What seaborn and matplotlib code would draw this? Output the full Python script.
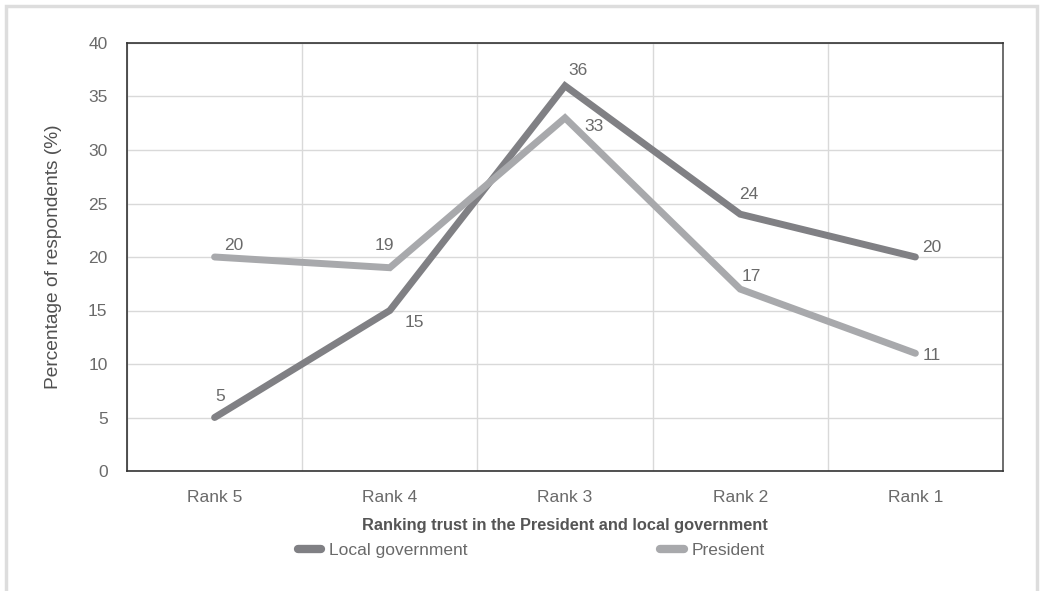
import matplotlib
matplotlib.use("Agg")
import matplotlib.pyplot as plt
from matplotlib.patches import Rectangle
from matplotlib.lines import Line2D
import seaborn as sns
import pandas as pd

# Data
ranks = ["Rank 5", "Rank 4", "Rank 3", "Rank 2", "Rank 1"]
local_gov = [5, 15, 36, 24, 20]
president = [20, 19, 33, 17, 11]
series_names = ["Local government", "President"]

# label offsets in points (dx, dy) for each data label
local_offsets = [(4, 15), (18, -9), (9, 11), (6, 14), (12, 7)]
pres_offsets = [(14, 8), (-4, 16), (21, -6), (8, 9), (12, -1.5)]

colors = {"Local government": "#808084", "President": "#a8a9ac"}

df = pd.DataFrame({
    "rank": ranks * 2,
    "value": local_gov + president,
    "series": [series_names[0]] * 5 + [series_names[1]] * 5,
})

sns.set_style("white")
plt.rcParams["font.family"] = ["Liberation Sans", "DejaVu Sans"]

fig = plt.figure(figsize=(10.42, 5.91), dpi=100)
ax = fig.add_axes([127 / 1042, 1 - 471 / 591, (1003 - 127) / 1042, (471 - 43) / 591])

sns.lineplot(data=df, x="rank", y="value", hue="series", palette=colors,
             linewidth=5, ax=ax, legend=False, sort=False)
for line in ax.get_lines():
    line.set_solid_capstyle("round")
    line.set_solid_joinstyle("miter")

ax.set_xlim(-0.5, 4.5)
ax.set_ylim(0, 40)
ax.set_yticks(range(0, 41, 5))
ax.set_xticks(range(5))
ax.set_xticklabels(ranks)
ax.set_xticks([i - 0.5 for i in range(6)], minor=True)
ax.tick_params(axis="x", which="major", length=0, pad=14, labelsize=12.5, labelcolor="#6a6a6a")
ax.tick_params(axis="x", which="minor", length=6, width=1, color="#333333", direction="out")
ax.tick_params(axis="y", which="major", length=8, width=1, color="#333333", pad=6,
               labelsize=12.5, labelcolor="#6a6a6a")
ax.grid(axis="y", which="major", color="#d9d9d9", linewidth=1)
ax.grid(axis="x", which="minor", color="#d9d9d9", linewidth=1)
ax.set_axisbelow(True)

for side in ["left", "bottom", "top", "right"]:
    ax.spines[side].set_visible(True)
    ax.spines[side].set_color("#333333")
    ax.spines[side].set_linewidth(1.2)
ax.spines["right"].set_color("#555555")

ax.set_xlabel("Ranking trust in the President and local government", fontsize=11.8,
              fontweight="bold", color="#555555", labelpad=9)
ax.set_ylabel("Percentage of respondents (%)", fontsize=13.8,
              color="#505050", labelpad=19)

for vals, offs in [(local_gov, local_offsets), (president, pres_offsets)]:
    for i, (v, o) in enumerate(zip(vals, offs)):
        ax.annotate(str(v), (i, v), xytext=o, textcoords="offset points",
                    ha="center", va="center", fontsize=12.5, color="#6a6a6a")

handles = [Line2D([], [], color=colors[n], linewidth=6, solid_capstyle="round") for n in series_names]
fig.legend(handles, series_names, loc="center", bbox_to_anchor=(0.51, 1 - 550 / 591),
           ncol=2, frameon=False, fontsize=12.5, labelcolor="#6a6a6a",
           handlelength=1.35, handletextpad=0.45, columnspacing=11.1)

# light grey frame around the figure
fig.patches.append(Rectangle((6 / 1042, -0.05), (1037 - 6) / 1042, 1.05 - 6 / 591,
                             transform=fig.transFigure, fill=False,
                             edgecolor="#dddddd", linewidth=2.5))

fig.savefig("out.png", dpi=100)
